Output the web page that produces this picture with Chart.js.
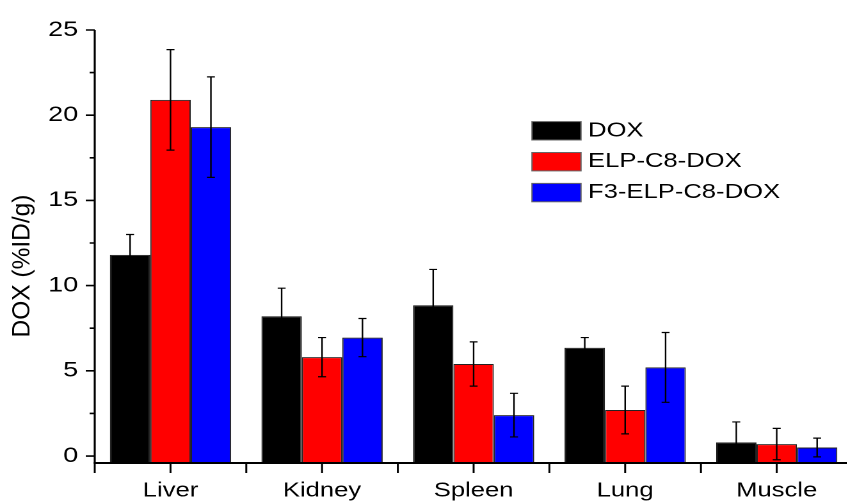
<!DOCTYPE html>
<html>
<head>
<meta charset="utf-8">
<script src="https://cdn.jsdelivr.net/npm/chart.js@4.4.1/dist/chart.umd.min.js"></script>
<style>
  html, body { margin: 0; padding: 0; overflow: hidden; background: #fff; }
  /* the original figure is stretched horizontally, so the chart is drawn narrow and scaled in x */
  #wrap { position: relative; width: 670px; height: 501px; transform: scaleX(1.28); transform-origin: 0 0; }
</style>
</head>
<body>
<div id="wrap"><canvas id="chart"></canvas></div>
<script>
const S = 1.28;

const categories = ['Liver', 'Kidney', 'Spleen', 'Lung', 'Muscle'];
const dox = [11.8, 8.2, 8.85, 6.35, 0.8];
const doxErr = [1.2, 1.65, 2.1, 0.6, 1.2];
const elp = [20.9, 5.8, 5.4, 2.7, 0.7];
const elpErr = [2.95, 1.15, 1.3, 1.4, 0.92];
const f3 = [19.3, 6.95, 2.4, 5.2, 0.5];
const f3Err = [2.95, 1.12, 1.28, 2.05, 0.55];
const yTicks = [0, 5, 10, 15, 20, 25];
const yMinorTicks = [2.5, 7.5, 12.5, 17.5, 22.5];
const Y_MIN = -0.41, Y_MAX = 25;

const FONT = "'Liberation Sans', Arial, sans-serif";

const errorBars = {
    id: 'errorBars',
    afterDatasetsDraw(chart) {
        const ctx = chart.ctx, y = chart.scales.y;
        ctx.save();
        ctx.strokeStyle = '#000';
        ctx.lineWidth = 1.2;
        chart.data.datasets.forEach((ds, i) => {
            chart.getDatasetMeta(i).data.forEach((bar, j) => {
                const top = y.getPixelForValue(ds.data[j] + ds.errors[j]);
                const bot = y.getPixelForValue(ds.data[j] - ds.errors[j]);
                ctx.beginPath();
                ctx.moveTo(bar.x, top); ctx.lineTo(bar.x, bot);
                ctx.moveTo(bar.x - 3.1, top); ctx.lineTo(bar.x + 3.1, top);
                ctx.moveTo(bar.x - 3.1, bot); ctx.lineTo(bar.x + 3.1, bot);
                ctx.stroke();
            });
        });
        ctx.restore();
    }
};

const axesLines = {
    id: 'axesLines',
    afterDatasetsDraw(chart) {
        const {ctx, chartArea: a, scales: {x, y}} = chart;
        ctx.save();
        ctx.strokeStyle = '#000';
        ctx.lineWidth = 1.6;
        ctx.beginPath();
        ctx.moveTo(a.left, a.top);
        ctx.lineTo(a.left, a.bottom);
        yTicks.forEach(v => {
            const p = y.getPixelForValue(v);
            ctx.moveTo(a.left, p); ctx.lineTo(a.left - 7, p);
        });
        yMinorTicks.forEach(v => {
            const p = y.getPixelForValue(v);
            ctx.moveTo(a.left, p); ctx.lineTo(a.left - 4, p);
        });
        ctx.stroke();

        ctx.lineWidth = 2;
        ctx.beginPath();
        ctx.moveTo(a.left - 0.8, a.bottom);
        ctx.lineTo(a.right, a.bottom);
        ctx.stroke();

        ctx.lineWidth = 1.5;
        ctx.beginPath();
        const half = (x.getPixelForValue(1) - x.getPixelForValue(0)) / 2;
        categories.forEach((c, i) => {
            const p = x.getPixelForValue(i);
            [p - half, p].forEach(q => {
                ctx.moveTo(q, a.bottom); ctx.lineTo(q, a.bottom + 10);
            });
        });
        ctx.stroke();
        ctx.restore();
    }
};

const yTitle = {
    id: 'yTitle',
    afterDraw(chart) {
        const ctx = chart.ctx;
        ctx.save();
        ctx.translate(17.8, 266);
        ctx.scale(1 / S, 1);
        ctx.rotate(-Math.PI / 2);
        ctx.fillStyle = '#000';
        ctx.font = '24.5px ' + FONT;
        ctx.textAlign = 'center';
        ctx.textBaseline = 'middle';
        ctx.fillText('DOX (%ID/g)', 0, 0);
        ctx.restore();
    }
};

const boxLegend = {
    id: 'boxLegend',
    afterDraw(chart) {
        const ctx = chart.ctx;
        ctx.save();
        ctx.font = '20px ' + FONT;
        ctx.textBaseline = 'middle';
        chart.data.datasets.forEach((ds, i) => {
            const cy = 130.8 + i * 30.9;
            ctx.fillStyle = ds.backgroundColor;
            ctx.fillRect(415.6, cy - 9.2, 38.3, 18.4);
            ctx.strokeStyle = '#666';
            ctx.lineWidth = 1;
            ctx.strokeRect(415.6, cy - 9.2, 38.3, 18.4);
            ctx.fillStyle = '#000';
            ctx.fillText(ds.label, 459.4, cy);
        });
        ctx.restore();
    }
};

const barStyle = {
    borderColor: '#222',
    borderWidth: 1,
    barPercentage: 1.0,
    categoryPercentage: 0.8,
    base: Y_MIN
};

new Chart(document.getElementById('chart').getContext('2d'), {
    type: 'bar',
    data: {
        labels: categories,
        datasets: [
            Object.assign({label: 'DOX', data: dox, errors: doxErr, backgroundColor: '#000000'}, barStyle),
            Object.assign({label: 'ELP-C8-DOX', data: elp, errors: elpErr, backgroundColor: '#ff0000'}, barStyle),
            Object.assign({label: 'F3-ELP-C8-DOX', data: f3, errors: f3Err, backgroundColor: '#0000ff'}, barStyle)
        ]
    },
    options: {
        responsive: true,
        maintainAspectRatio: false,
        animation: false,
        devicePixelRatio: 2,
        layout: {padding: {top: 30, right: 4, bottom: 0, left: 0}},
        plugins: {
            legend: {display: false},
            tooltip: {enabled: false}
        },
        scales: {
            x: {
                offset: true,
                grid: {display: false, drawTicks: false},
                border: {display: false},
                ticks: {color: '#000', font: {size: 20, family: FONT}, padding: 16, maxRotation: 0, autoSkip: false},
                afterFit: s => { s.height = 38; }
            },
            y: {
                min: Y_MIN,
                max: Y_MAX,
                grid: {display: false, drawTicks: false},
                border: {display: false},
                ticks: {color: '#000', font: {size: 21, family: FONT}, padding: 13},
                afterBuildTicks: s => { s.ticks = yTicks.map(v => ({value: v})); },
                afterFit: s => { s.width = 74; }
            }
        }
    },
    plugins: [axesLines, errorBars, yTitle, boxLegend]
});
</script>
</body>
</html>
